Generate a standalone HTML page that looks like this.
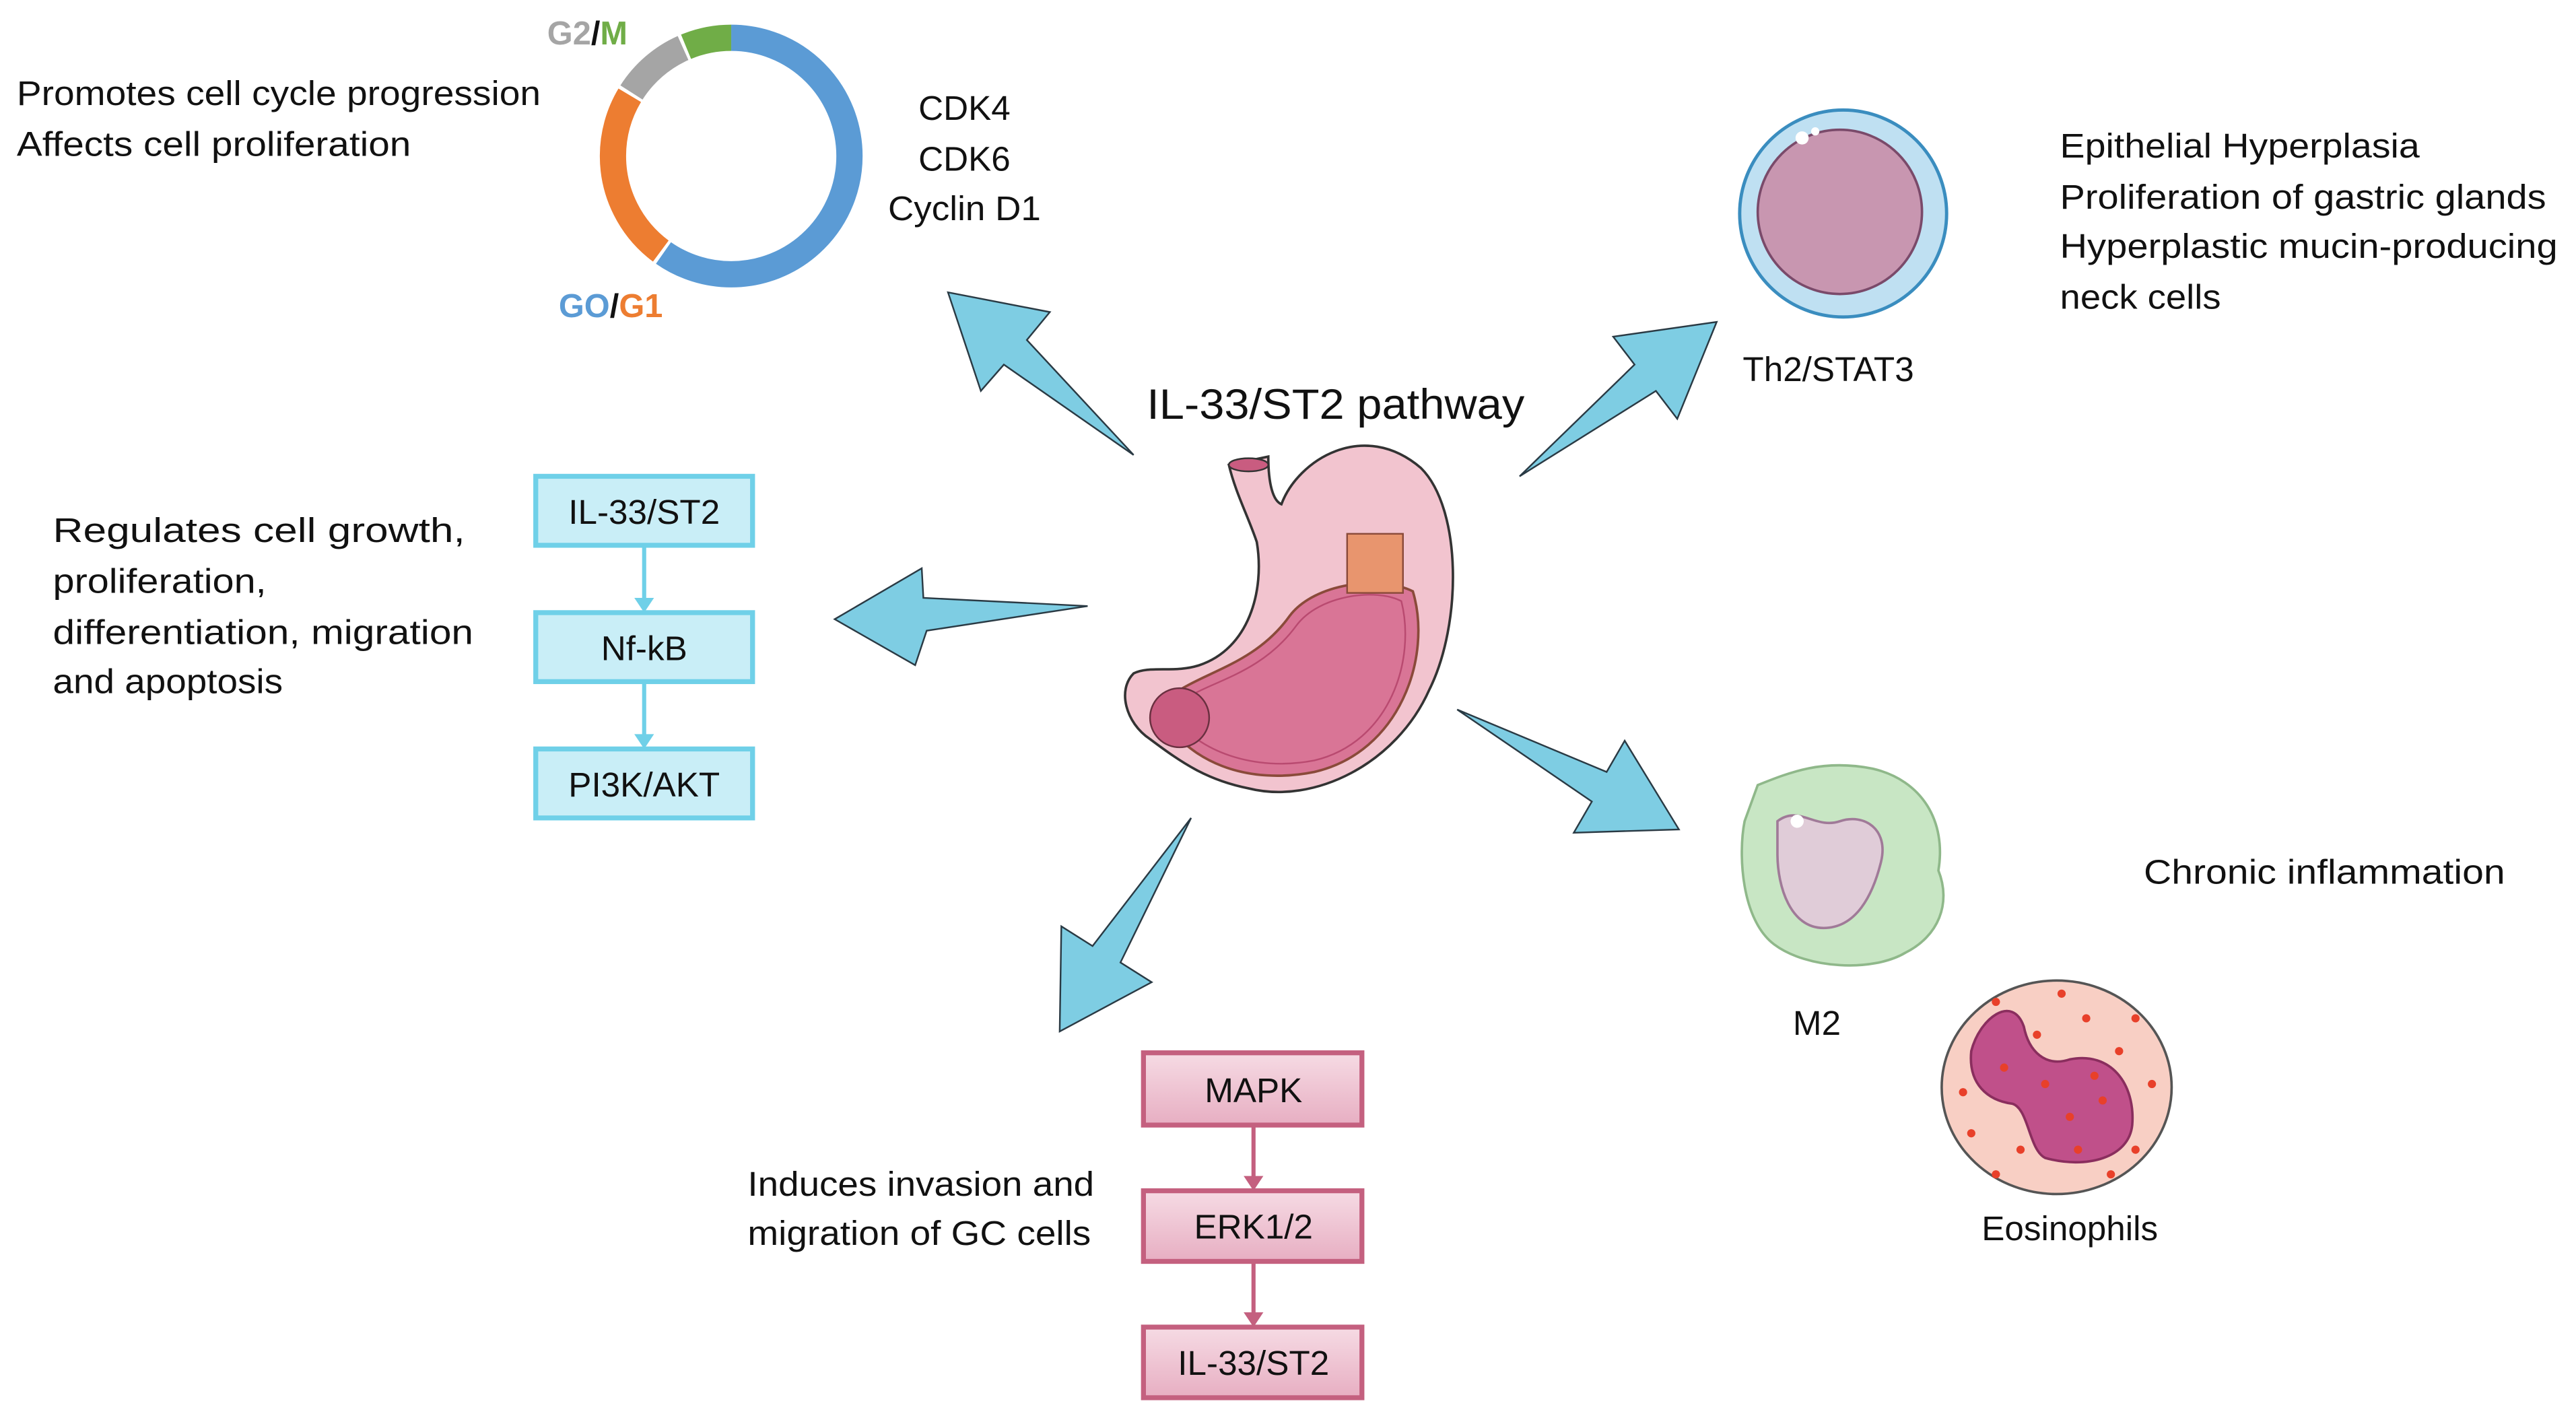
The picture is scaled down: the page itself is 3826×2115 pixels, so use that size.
<!DOCTYPE html>
<html><head><meta charset="utf-8"><style>
html,body{margin:0;padding:0;background:#fff}
svg{display:block}
text{font-family:"Liberation Sans",sans-serif;fill:#111}
</style></head><body>
<svg width="3826" height="2115" viewBox="0 0 1568 867" xmlns="http://www.w3.org/2000/svg">
<defs>
<linearGradient id="pk" x1="0" y1="0" x2="0" y2="1"><stop offset="0" stop-color="#f6dbe4"/><stop offset="1" stop-color="#e7aec2"/></linearGradient>
</defs>
<rect width="1568" height="867" fill="#fff"/>

<!-- donut -->
<g fill="none" stroke-width="16">
<circle cx="445" cy="95" r="72" stroke="#5b9bd5" stroke-dasharray="270 500" transform="rotate(-90 445 95)"/>
<circle cx="445" cy="95" r="72" stroke="#ed7d31" stroke-dasharray="106 500" stroke-dashoffset="-272" transform="rotate(-90 445 95)"/>
<circle cx="445" cy="95" r="72" stroke="#a5a5a5" stroke-dasharray="42 500" stroke-dashoffset="-380" transform="rotate(-90 445 95)"/>
<circle cx="445" cy="95" r="72" stroke="#70ad47" stroke-dasharray="30 500" stroke-dashoffset="-424" transform="rotate(-90 445 95)"/>
</g>
<text x="333" y="27" font-size="20" font-weight="bold"><tspan fill="#a5a5a5">G2</tspan><tspan>/</tspan><tspan fill="#70ad47">M</tspan></text>
<text x="340" y="193" font-size="20" font-weight="bold"><tspan fill="#5b9bd5">GO</tspan><tspan>/</tspan><tspan fill="#ed7d31">G1</tspan></text>
<text x="10" y="64" font-size="21" textLength="319" lengthAdjust="spacingAndGlyphs">Promotes cell cycle progression</text>
<text x="10" y="95" font-size="21" textLength="240" lengthAdjust="spacingAndGlyphs">Affects cell proliferation</text>
<g font-size="21" text-anchor="middle">
<text x="587" y="73">CDK4</text><text x="587" y="104">CDK6</text><text x="587" y="134" textLength="93" lengthAdjust="spacingAndGlyphs">Cyclin D1</text>
</g>
<text x="813" y="255" font-size="26" text-anchor="middle" textLength="230" lengthAdjust="spacingAndGlyphs">IL-33/ST2 pathway</text>

<!-- arrows -->
<g fill="#7ecde3" stroke="#2a3a44" stroke-width="1" stroke-linejoin="miter">
<polygon points="690,277 611,222 597,238 577,178 639,190 625,207"/>
<polygon points="662,369 564,384 557,405 508,377 561,346 562,364"/>
<polygon points="925,290 995,222 982,205 1045,196 1021,255 1008,238"/>
<polygon points="887,432 978,470 989,451 1022,505 958,507 969,488"/>
<polygon points="725,498 682,586 701,598 645,628 646,564 665,576"/>
</g>

<!-- left boxes -->
<g fill="#c9eef7" stroke="#6fd0e8" stroke-width="3">
<rect x="326" y="290" width="132" height="42"/>
<rect x="326" y="373" width="132" height="42"/>
<rect x="326" y="456" width="132" height="42"/>
</g>
<g stroke="#6fd0e8" stroke-width="2.5"><line x1="392" y1="332" x2="392" y2="366"/><line x1="392" y1="415" x2="392" y2="449"/></g>
<g fill="#6fd0e8"><polygon points="386,364 398,364 392,373"/><polygon points="386,447 398,447 392,456"/></g>
<g font-size="21" text-anchor="middle">
<text x="392" y="319">IL-33/ST2</text><text x="392" y="402">Nf-kB</text><text x="392" y="485">PI3K/AKT</text>
</g>
<g font-size="21">
<text x="32" y="330" textLength="251" lengthAdjust="spacingAndGlyphs">Regulates cell growth,</text>
<text x="32" y="361" textLength="130" lengthAdjust="spacingAndGlyphs">proliferation,</text>
<text x="32" y="392" textLength="256" lengthAdjust="spacingAndGlyphs">differentiation, migration</text>
<text x="32" y="422" textLength="140" lengthAdjust="spacingAndGlyphs">and apoptosis</text>
</g>

<!-- bottom boxes -->
<g fill="url(#pk)" stroke="#c4607f" stroke-width="3">
<rect x="696" y="641" width="133" height="44"/>
<rect x="696" y="725" width="133" height="43"/>
<rect x="696" y="808" width="133" height="43"/>
</g>
<g stroke="#c4607f" stroke-width="2.5"><line x1="763" y1="685" x2="763" y2="718"/><line x1="763" y1="768" x2="763" y2="801"/></g>
<g fill="#c4607f"><polygon points="757,716 769,716 763,725"/><polygon points="757,799 769,799 763,808"/></g>
<g font-size="21" text-anchor="middle">
<text x="763" y="671">MAPK</text><text x="763" y="754">ERK1/2</text><text x="763" y="837">IL-33/ST2</text>
</g>
<text x="455" y="728" font-size="21" textLength="211" lengthAdjust="spacingAndGlyphs">Induces invasion and</text>
<text x="455" y="758" font-size="21" textLength="209" lengthAdjust="spacingAndGlyphs">migration of GC cells</text>

<!-- stomach -->
<path d="M748,283 L772,278 C772,295 775,305 780,307 C790,280 830,255 865,285 C890,310 890,380 870,420 C850,465 800,490 760,480 C735,475 720,465 700,450 C685,440 680,420 690,410 C700,405 715,410 730,405 C760,395 770,360 765,330 C760,315 752,300 748,283 Z" fill="#f2c4cf" stroke="#333" stroke-width="1.5"/>
<path d="M705,432 C720,410 760,410 785,375 C800,355 840,350 860,360 C872,400 852,458 800,470 C760,478 722,465 705,432 Z" fill="#d97596" stroke="#8a4a3a" stroke-width="1.5"/>
<path d="M712,433 C728,415 764,415 789,381 C803,362 838,358 853,366 C862,402 846,452 800,463 C764,470 728,458 712,433 Z" fill="none" stroke="#b94a70" stroke-width="1"/>
<circle cx="718" cy="437" r="18" fill="#c95c80" stroke="#6a3040"/>
<rect x="820" y="325" width="34" height="36" fill="#e8956e" stroke="#8a4a3a"/>
<ellipse cx="760" cy="283" rx="12" ry="4" fill="#c95c80" stroke="#333"/>

<!-- Th2 -->
<circle cx="1122" cy="130" r="63" fill="#bfe0f2" stroke="#3a8dbf" stroke-width="2"/>
<circle cx="1120" cy="129" r="50" fill="#c896b0" stroke="#7a4a6a" stroke-width="1.5"/>
<circle cx="1097" cy="84" r="4" fill="#fff"/><circle cx="1105" cy="80" r="2.5" fill="#fff"/>
<text x="1113" y="232" font-size="21" text-anchor="middle">Th2/STAT3</text>
<g font-size="21">
<text x="1254" y="96" textLength="219" lengthAdjust="spacingAndGlyphs">Epithelial Hyperplasia</text>
<text x="1254" y="127" textLength="296" lengthAdjust="spacingAndGlyphs">Proliferation of gastric glands</text>
<text x="1254" y="157" textLength="303" lengthAdjust="spacingAndGlyphs">Hyperplastic mucin-producing</text>
<text x="1254" y="188" textLength="98" lengthAdjust="spacingAndGlyphs">neck cells</text>
<text x="1305" y="538" textLength="220" lengthAdjust="spacingAndGlyphs">Chronic inflammation</text>
</g>

<!-- M2 -->
<path d="M1070,478 C1090,470 1110,462 1140,468 C1170,475 1185,500 1180,530 C1188,550 1180,570 1160,580 C1140,592 1100,590 1080,575 C1060,560 1058,520 1062,500 Z" fill="#c8e6c4" stroke="#8fb88a" stroke-width="1.5"/>
<path d="M1082,500 C1095,490 1105,505 1120,500 C1135,495 1150,505 1145,525 C1140,545 1130,565 1110,565 C1090,565 1082,540 1082,520 Z" fill="#e0ccd8" stroke="#a07a98" stroke-width="1.5"/>
<circle cx="1094" cy="500" r="4" fill="#fff"/>
<text x="1106" y="630" font-size="21" text-anchor="middle">M2</text>

<!-- eosinophil -->
<ellipse cx="1252" cy="662" rx="70" ry="65" fill="#f8cfc4" stroke="#555" stroke-width="1.5"/>
<path d="M1200,640 C1205,620 1225,605 1232,625 C1235,640 1245,650 1260,645 C1285,640 1300,660 1298,685 C1296,705 1270,712 1245,705 C1235,700 1235,675 1225,672 C1210,670 1198,660 1200,640 Z" fill="#c0508a" stroke="#8a2e5e" stroke-width="1.5"/>
<g fill="#e8402a">
<circle cx="1215" cy="610" r="2.5"/><circle cx="1270" cy="620" r="2.5"/><circle cx="1290" cy="640" r="2.5"/><circle cx="1200" cy="690" r="2.5"/><circle cx="1230" cy="700" r="2.5"/><circle cx="1260" cy="680" r="2.5"/><circle cx="1280" cy="670" r="2.5"/><circle cx="1300" cy="700" r="2.5"/><circle cx="1245" cy="660" r="2.5"/><circle cx="1310" cy="660" r="2.5"/><circle cx="1220" cy="650" r="2.5"/><circle cx="1265" cy="700" r="2.5"/><circle cx="1285" cy="715" r="2.5"/><circle cx="1240" cy="630" r="2.5"/><circle cx="1300" cy="620" r="2.5"/><circle cx="1255" cy="605" r="2.5"/><circle cx="1195" cy="665" r="2.5"/><circle cx="1215" cy="715" r="2.5"/><circle cx="1275" cy="655" r="2.5"/>
</g>
<text x="1260" y="755" font-size="21" text-anchor="middle">Eosinophils</text>
</svg>
</body></html>
